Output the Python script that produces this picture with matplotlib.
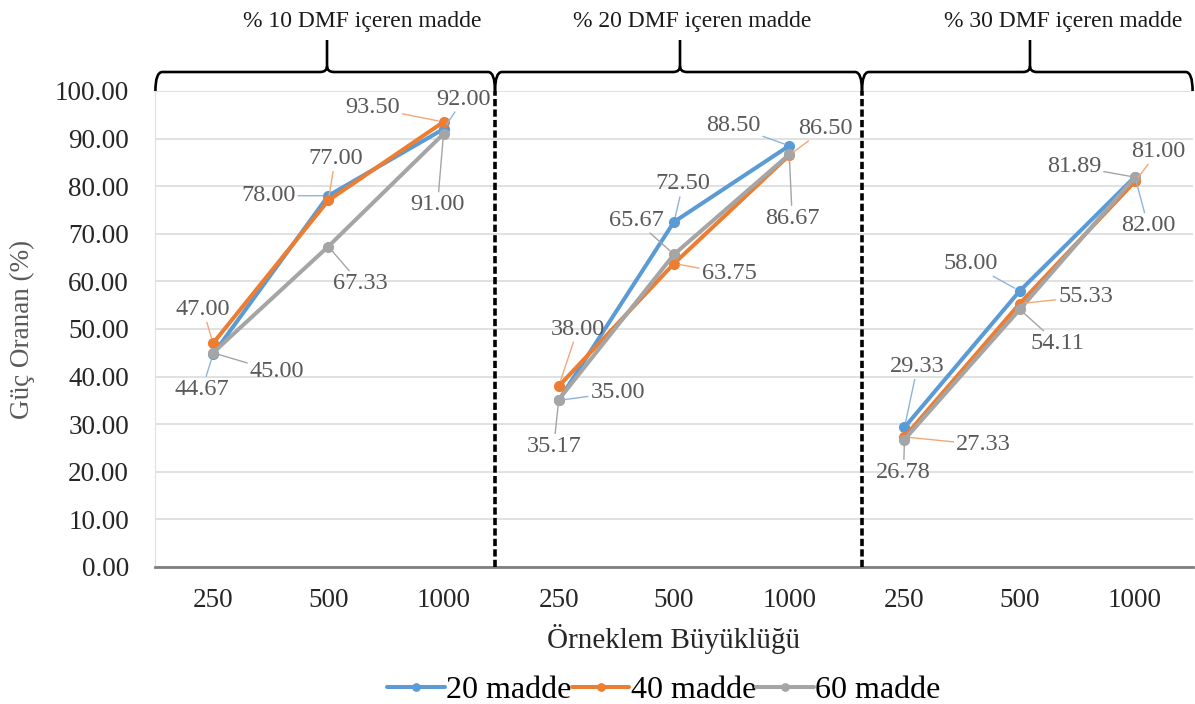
import matplotlib
matplotlib.use("Agg")
import matplotlib.pyplot as plt
from matplotlib.path import Path
from matplotlib.patches import PathPatch
import matplotlib.transforms as mtransforms
from matplotlib.lines import Line2D

plt.rcParams['font.family'] = ['Liberation Serif', 'DejaVu Serif']

# ---------------- data ----------------
categories = ["250", "500", "1000", "250", "500", "1000", "250", "500", "1000"]
groups = ["% 10 DMF içeren madde", "% 20 DMF içeren madde", "% 30 DMF içeren madde"]
series_names = ["20 madde", "40 madde", "60 madde"]
madde20 = [44.67, 78.00, 92.00, 35.00, 72.50, 88.50, 29.33, 58.00, 82.00]
madde40 = [47.00, 77.00, 93.50, 38.00, 63.75, 86.50, 27.33, 55.33, 81.00]
madde60 = [45.00, 67.33, 91.00, 35.17, 65.67, 86.67, 26.78, 54.11, 81.89]
y_ticks = [0, 10, 20, 30, 40, 50, 60, 70, 80, 90, 100]
x_label = "Örneklem Büyüklüğü"
y_label = "Güç Oranan (%)"

# ---------------- styles / label positions (pixels) ----------------
colors = ["#5B9BD5", "#ED7D31", "#A5A5A5"]
leader_colors = ["#8DB4DE", "#F0A878", "#A5A5A5"]
label_offsets = [
    [(-11, -35), (-60, 0), (20, 30), (59, 8), (9, 38), (-56, 20), (13, 61), (-49, 27), (13, -49)],
    [(-10, 34), (7, 42), (-71, 14), (19, 57), (55, -10), (36, 27), (79, -8), (66, 7), (23, 30)],
    [(64, -19), (32, -37), (-6, -71), (-5, -47), (-38, 34), (3, -64), (-1, -33), (38, -34), (-61, 11)],
]

W, H = 1195, 704
fig = plt.figure(figsize=(W / 100, H / 100), dpi=100)
ax = fig.add_axes([155.4 / W, 1 - 567 / H, (1192.6 - 155.4) / W, (567 - 91) / H])

x = list(range(len(categories)))
all_series = [madde20, madde40, madde60]

for s, (vals, col, name) in enumerate(zip(all_series, colors, series_names)):
    for g in range(3):
        xs = x[g * 3:(g + 1) * 3]
        ys = vals[g * 3:(g + 1) * 3]
        ax.plot(xs, ys, color=col, lw=2.9, marker='o', ms=7,
                solid_capstyle='round', zorder=3 + s,
                label=name if g == 0 else None)

for s, vals in enumerate(all_series):
    for i, v in enumerate(vals):
        dx, dy = label_offsets[s][i]
        ax.annotate(f"{v:.2f}", xy=(x[i], v), xytext=(dx, dy),
                    textcoords='offset pixels', ha='center', va='center',
                    fontsize=17.5, color='#595959', zorder=10,
                    bbox=dict(boxstyle='square,pad=0.05', fc='none', ec='none'),
                    arrowprops=dict(arrowstyle='-', color=leader_colors[s], lw=1.0,
                                    shrinkA=1, shrinkB=4))

ax.set_xlim(-0.5, len(categories) - 0.5)
ax.set_ylim(0, 100)
ax.set_yticks(y_ticks)
ax.set_yticklabels([f"{t:.2f}" for t in y_ticks])
ax.set_xticks(x)
ax.set_xticklabels(categories)
ax.tick_params(axis='y', length=0, pad=19, labelsize=19.5, labelcolor='#262626')
ax.tick_params(axis='x', length=0, pad=15, labelsize=19.5, labelcolor='#262626')
ax.grid(axis='y', color='#D9D9D9', lw=1.1, zorder=0)
ax.set_axisbelow(True)
for sp in ['top', 'right']:
    ax.spines[sp].set_visible(False)
ax.spines['left'].set_color('#E0E0E0')
ax.spines['bottom'].set_color('#7F7F7F')
ax.spines['bottom'].set_linewidth(2.0)

ax.set_xlabel(x_label, fontsize=21, color='#262626', labelpad=8)
ax.set_ylabel(y_label, fontsize=19.5, color='#595959', labelpad=14)

# ---------------- braces and separators ----------------
trans = mtransforms.blended_transform_factory(ax.transData, ax.transAxes)
step = 115.25
def px2x(px):
    return (px - 213) / step

yb = (567 - 72) / 476.0
ytop = (567 - 40) / 476.0
yend = 1.0
ytext = (567 - 21) / 476.0
dxc = 7 / step
dyc = 6 / 476.0

bounds = [(-0.5, px2x(495)), (px2x(495), px2x(862)), (px2x(862), 8.5)]
centers = [px2x(327), px2x(680), px2x(1030)]
text_x = [px2x(362), px2x(692), px2x(1063)]

for (x0, x1), xc, tx, name in zip(bounds, centers, text_x, groups):
    verts = [(x0, yend), (x0, yb), (x0 + dxc, yb),
             (xc - dxc, yb), (xc, yb), (xc, yb + dyc),
             (xc, ytop)]
    codes = [Path.MOVETO, Path.CURVE3, Path.CURVE3,
             Path.LINETO, Path.CURVE3, Path.CURVE3,
             Path.LINETO]
    ax.add_patch(PathPatch(Path(verts, codes), fc='none', ec='black', lw=1.9,
                           transform=trans, clip_on=False))
    verts2 = [(xc, yb + dyc), (xc, yb), (xc + dxc, yb),
              (x1 - dxc, yb), (x1, yb), (x1, yend)]
    codes2 = [Path.MOVETO, Path.CURVE3, Path.CURVE3,
              Path.LINETO, Path.CURVE3, Path.CURVE3]
    ax.add_patch(PathPatch(Path(verts2, codes2), fc='none', ec='black', lw=1.9,
                           transform=trans, clip_on=False))
    ax.text(tx, ytext, name, transform=trans, ha='center', va='center',
            fontsize=17, color='#1a1a1a')

for xs in [px2x(495), px2x(862)]:
    ax.add_line(Line2D([xs, xs], [0, 1.0], transform=trans, color='black',
                       lw=2.6, linestyle=(0, (2, 0.9)), clip_on=False, zorder=6))

# ---------------- legend ----------------
fig.legend(loc='center', bbox_to_anchor=(664 / W, 1 - 690 / H), ncol=3,
           frameon=False, fontsize=23, handlelength=1.8, handletextpad=0.05,
           columnspacing=0.0, borderaxespad=0, markerscale=0.75)

fig.savefig("out.png", dpi=100)
